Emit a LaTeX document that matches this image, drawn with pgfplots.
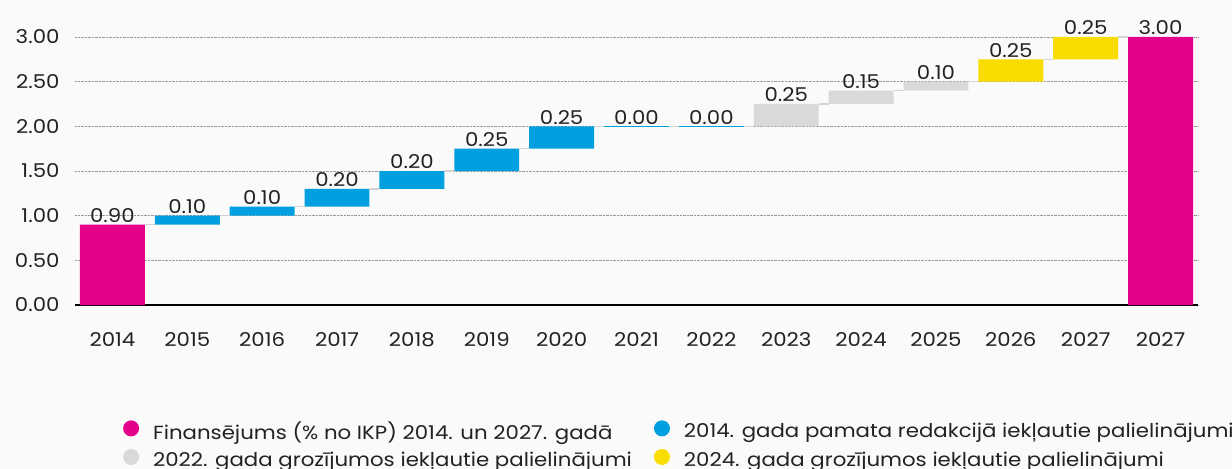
\documentclass[border=0pt]{standalone}
\usepackage{fontspec}
\setmainfont{Poppins}[FakeStretch=1.12]
\usepackage{pgfplots}
\usepackage{pgfplotstable}
\pgfplotsset{compat=1.18}
\definecolor{pinkC}{HTML}{E5008A}
\definecolor{blueC}{HTML}{009FDF}
\definecolor{grayC}{HTML}{D9D9D9}
\definecolor{yellowC}{HTML}{F9DC00}
\definecolor{bgC}{HTML}{FAFAFA}
\definecolor{txtC}{HTML}{222222}
\definecolor{connC}{HTML}{D4D4D4}
\pgfplotstableread{
x base pink blue gray yellow
0 0 0.9 0 0 0
1 0.9 0 0.1 0 0
2 1.0 0 0.1 0 0
3 1.1 0 0.2 0 0
4 1.3 0 0.2 0 0
5 1.5 0 0.25 0 0
6 1.75 0 0.25 0 0
7 2.0 0 0 0 0
8 2.0 0 0 0 0
9 2.0 0 0 0.25 0
10 2.25 0 0 0.15 0
11 2.4 0 0 0.10 0
12 2.5 0 0 0 0.25
13 2.75 0 0 0 0.25
14 0 3.0 0 0 0
}\wf
\pgfplotstableread{
x top label
0 0.90 0.90
1 1.00 0.10
2 1.10 0.10
3 1.30 0.20
4 1.50 0.20
5 1.75 0.25
6 2.00 0.25
7 2.00 0.00
8 2.00 0.00
9 2.25 0.25
10 2.40 0.15
11 2.50 0.10
12 2.75 0.25
13 3.00 0.25
14 3.00 3.00
}\labs
\pgfplotstableread{
x y ex
0.5 0.90 0.0667
1.5 1.00 0.0667
2.5 1.10 0.0667
3.5 1.30 0.0667
4.5 1.50 0.0667
5.5 1.75 0.0667
6.5 2.00 0.0667
7.5 2.00 0.0667
8.5 2.00 0.0667
9.5 2.25 0.0667
10.5 2.40 0.0667
11.5 2.50 0.0667
12.5 2.75 0.0667
13.5 3.00 0.0667
}\conn
\pgfplotstableread{
x y ex
7 2.0 0.4335
8 2.0 0.4335
}\zeros
\begin{document}
\begin{tikzpicture}
\fill[bgC] (-75bp,-164bp) rectangle (1157bp,305bp);
\pgfplotsset{common/.style={
  scale only axis, width=1123bp, height=268bp,
  at={(0,0)}, anchor=south west,
  xmin=-0.5, xmax=14.5, ymin=0, ymax=3,
}}
\begin{axis}[common,
  ybar stacked, bar width=0.867,
  axis x line=bottom, axis y line=left,
  x axis line style={-, line width=1.3bp, black},
  y axis line style={draw=none},
  ymajorgrids, major grid style={gray!80, line width=0.6bp, dash pattern=on 0.7bp off 0.7bp},
  ytick={0,0.5,1,1.5,2,2.5,3},
  xtick={0,...,14},
  xticklabels={2014,2015,2016,2017,2018,2019,2020,2021,2022,2023,2024,2025,2026,2027,2027},
  major tick length=0pt,
  tick style={draw=none},
  ticklabel style={font=\fontsize{19bp}{21bp}\selectfont, text=txtC},
  /pgf/number format/assume math mode=true,
  yticklabel style={/pgf/number format/.cd, fixed, fixed zerofill, precision=2},
  yticklabel shift=12bp,
  xticklabel shift=24bp,
  legend columns=2,
  legend cell align=left,
  legend style={at={(0.040,-0.42)}, anchor=north west, draw=none, fill=none,
    font=\fontsize{19bp}{21bp}\selectfont, text=txtC,
    /tikz/every even column/.append style={column sep=20bp},
    row sep=6bp},
  legend image code/.code={\fill[#1] (0bp,0.3em) circle (8bp); \path (20bp,0.3em);},
]
\addplot[draw=none, fill=none, forget plot] table[x=x, y=base] {\wf};
\addplot[draw=none, fill=pinkC] table[x=x, y=pink] {\wf};
\addplot[draw=none, fill=blueC] table[x=x, y=blue] {\wf};
\addplot[draw=none, fill=grayC] table[x=x, y=gray] {\wf};
\addplot[draw=none, fill=yellowC] table[x=x, y=yellow] {\wf};
\legend{Finansējums (\% no IKP) 2014. un 2027. gadā, 2014. gada pamata redakcijā iekļautie palielinājumi, 2022. gada grozījumos iekļautie palielinājumi, 2024. gada grozījumos iekļautie palielinājumi}
\end{axis}
\begin{axis}[common, hide axis, clip=false]
\addplot[only marks, mark=none, mark size=0pt, mark options={draw=none, fill=none},
  error bars/.cd, x dir=both, x explicit, error mark=none,
  error bar style={draw=connC, line width=1.5bp}] table[x=x, y=y, x error=ex] {\conn};
\addplot[only marks, mark=none, mark size=0pt, mark options={draw=none, fill=none},
  error bars/.cd, x dir=both, x explicit, error mark=none,
  error bar style={draw=blueC, line width=1.2bp}] table[x=x, y=y, x error=ex] {\zeros};
\addplot[only marks, mark=none, point meta=explicit symbolic,
  nodes near coords, nodes near coords align={above},
  every node near coord/.append style={font=\fontsize{19bp}{21bp}\selectfont, text=txtC, inner sep=2bp}]
  table[x=x, y=top, meta=label] {\labs};
\end{axis}
\pgfresetboundingbox
\path[use as bounding box] (-75bp,-164bp) rectangle (1157bp,305bp);
\end{tikzpicture}
\end{document}
